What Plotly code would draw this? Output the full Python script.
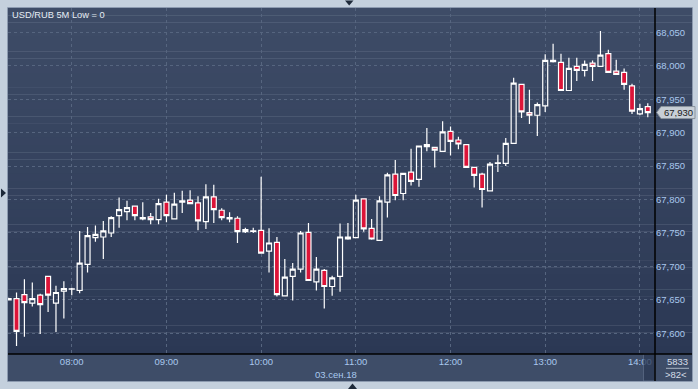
import plotly.graph_objects as go
import pandas as pd

# ---------------- data ----------------
times = pd.date_range("2018-09-03 07:20", periods=82, freq="5min")

open_ = [67.652, 67.652, 67.658, 67.645, 67.657, 67.685, 67.645, 67.663, 67.666, 67.664,
         67.703, 67.743, 67.744, 67.750, 67.776, 67.782, 67.790, 67.771, 67.774, 67.770,
         67.796, 67.771, 67.796, 67.799, 67.795, 67.767, 67.804, 67.784, 67.771, 67.772,
         67.752, 67.7525, 67.754, 67.723, 67.736, 67.656, 67.685, 67.696, 67.751, 67.677,
         67.694, 67.670, 67.685, 67.741, 67.743, 67.801, 67.757, 67.739, 67.796, 67.838,
         67.809, 67.841, 67.830, 67.882, 67.878, 67.872, 67.902, 67.889, 67.882, 67.848,
         67.838, 67.813, 67.854, 67.854, 67.884, 67.972, 67.930, 67.926, 67.940, 68.006,
         68.005, 67.963, 67.999, 67.993, 68.004, 67.999, 68.018, 67.992, 67.990, 67.970,
         67.928, 67.939]
high = [67.653, 67.661, 67.681, 67.676, 67.659, 67.686, 67.671, 67.678, 67.668, 67.753,
        67.759, 67.761, 67.768, 67.775, 67.803, 67.798, 67.790, 67.796, 67.780, 67.801,
        67.807, 67.810, 67.813, 67.814, 67.805, 67.823, 67.822, 67.787, 67.781, 67.775,
        67.758, 67.758, 67.834, 67.757, 67.744, 67.711, 67.705, 67.753, 67.765, 67.714,
        67.696, 67.686, 67.764, 67.765, 67.807, 67.801, 67.771, 67.805, 67.840, 67.859,
        67.840, 67.876, 67.880, 67.907, 67.879, 67.917, 67.909, 67.894, 67.883, 67.849,
        67.840, 67.856, 67.867, 67.892, 67.982, 67.973, 67.964, 67.945, 68.017, 68.033,
        68.018, 68.012, 68.012, 68.008, 68.008, 68.052, 68.024, 68.009, 67.996, 67.973,
        67.943, 67.944]
low = [67.649, 67.581, 67.595, 67.640, 67.599, 67.632, 67.602, 67.622, 67.657, 67.660,
       67.691, 67.737, 67.711, 67.744, 67.758, 67.769, 67.769, 67.769, 67.763, 67.763,
       67.766, 67.770, 67.780, 67.793, 67.754, 67.756, 67.765, 67.769, 67.766, 67.735,
       67.750, 67.750, 67.719, 67.691, 67.655, 67.655, 67.649, 67.691, 67.679, 67.664,
       67.637, 67.656, 67.662, 67.740, 67.743, 67.752, 67.740, 67.739, 67.773, 67.799,
       67.799, 67.821, 67.819, 67.872, 67.848, 67.871, 67.866, 67.875, 67.848, 67.818,
       67.788, 67.812, 67.841, 67.850, 67.883, 67.922, 67.913, 67.895, 67.931, 68.005,
       67.963, 67.963, 67.977, 67.984, 67.977, 67.999, 67.990, 67.987, 67.964, 67.928,
       67.926, 67.923]
close = [67.650, 67.603, 67.646, 67.652, 67.643, 67.657, 67.661, 67.667, 67.6665, 67.705,
         67.746, 67.748, 67.753, 67.773, 67.785, 67.788, 67.776, 67.773, 67.770, 67.794,
         67.776, 67.793, 67.798, 67.794, 67.768, 67.804, 67.785, 67.773, 67.773, 67.752,
         67.755, 67.753, 67.720, 67.735, 67.658, 67.684, 67.696, 67.750, 67.679, 67.696,
         67.670, 67.683, 67.744, 67.744, 67.799, 67.756, 67.741, 67.798, 67.837, 67.806,
         67.839, 67.827, 67.880, 67.879, 67.874, 67.901, 67.887, 67.883, 67.848, 67.836,
         67.815, 67.853, 67.855, 67.884, 67.974, 67.931, 67.926, 67.942, 68.008, 68.008,
         67.963, 67.996, 67.993, 68.002, 67.999, 68.016, 67.990, 67.987, 67.972, 67.932,
         67.936, 67.930]

title_text = "USD/RUB 5M Low = 0"
date_text = "03.сен.18"
volume_text = "5833"
count_text = ">82<"

# ---------------- geometry helpers (layout only) ----------------
W, H = 698, 389
L, R, T, B = 8, 43, 8, 35
PW, PH = W - L - R, H - T - B


def PX(x):
    return (x - L) / PW


def PY(y):
    return (H - B - y) / PH


RED = "#dc1438"
TICK = "#a9c8ee"
GRID = "#56657f"
FONT = "Liberation Sans"

fig = go.Figure()
fig.add_trace(go.Candlestick(
    x=times, open=open_, high=high, low=low, close=close,
    increasing=dict(line=dict(color="#ffffff", width=1.2), fillcolor="rgba(0,0,0,0)"),
    decreasing=dict(line=dict(color="#ffffff", width=1.2), fillcolor=RED),
    whiskerwidth=0, hoverinfo="skip", showlegend=False,
))

shapes = []
# vertical gradient background (plot + right axis panel)
top_c = (62, 76, 103)
bot_c = (43, 56, 84)
n = 48
for i in range(n):
    t0 = i / n
    t1 = (i + 1) / n
    f = (i + 0.5) / n
    c = tuple(round(top_c[j] + (bot_c[j] - top_c[j]) * f) for j in range(3))
    shapes.append(dict(type="rect", xref="paper", yref="paper", layer="below",
                       x0=PX(8), x1=PX(692), y0=PY(8 + 346 * t1) - 0.001, y1=PY(8 + 346 * t0),
                       fillcolor="rgb(%d,%d,%d)" % c, line=dict(width=0)))
# x-axis strip
shapes.append(dict(type="rect", xref="paper", yref="paper", layer="below",
                   x0=PX(8), x1=PX(692), y0=PY(381), y1=PY(354),
                   fillcolor="#3e4d68", line=dict(width=0)))
# scroll thumb near right end
shapes.append(dict(type="rect", xref="paper", yref="paper", layer="above",
                   x0=PX(643.5), x1=PX(655), y0=PY(381), y1=PY(354),
                   fillcolor="#2b3853", opacity=0.75, line=dict(color="#5a6a85", width=1)))
# black frame lines
shapes.append(dict(type="line", xref="paper", yref="paper", layer="above",
                   x0=PX(655), x1=PX(655), y0=PY(381), y1=PY(8),
                   line=dict(color="#000000", width=1.5)))
shapes.append(dict(type="line", xref="paper", yref="paper", layer="above",
                   x0=PX(8), x1=PX(692), y0=PY(354), y1=PY(354),
                   line=dict(color="#000000", width=1.5)))
# outer thin border
shapes.append(dict(type="rect", xref="paper", yref="paper", layer="above",
                   x0=PX(7.5), x1=PX(692.5), y0=PY(381.5), y1=PY(7.5),
                   line=dict(color="#8d9bb0", width=1)))
# separator in bottom-right box
shapes.append(dict(type="line", xref="paper", yref="paper", layer="above",
                   x0=PX(666), x1=PX(689), y0=PY(368.3), y1=PY(368.3),
                   line=dict(color="#a8b4c4", width=1)))
# small navigation triangles
def tri(pts):
    d = "M " + " L ".join("%f,%f" % (PX(x), PY(y)) for x, y in pts) + " Z"
    return dict(type="path", xref="paper", yref="paper", path=d, layer="above",
                fillcolor="#1e2a3a", line=dict(width=0))

shapes.append(tri([(345, 0.5), (353.5, 0.5), (349.2, 5.5)]))
shapes.append(tri([(1, 188.5), (1, 197.5), (6, 193)]))
shapes.append(tri([(348, 389), (357, 389), (352.5, 383.5)]))
# last price marker
shapes.append(dict(type="path", xref="paper", yref="y", layer="above",
                   xsizemode="pixel", ysizemode="pixel", xanchor=1, yanchor=close[-1],
                   path="M 1.7,0 L 6,6 L 40,6 L 40,-6 L 6,-6 Z",
                   fillcolor="#c8cfd7", line=dict(color="#8a939e", width=1)))

annotations = [
    dict(text=title_text, xref="paper", yref="paper", x=PX(10), y=PY(15),
         xanchor="left", yanchor="middle", showarrow=False,
         font=dict(family=FONT, size=9.3, color="#e6edf5")),
    dict(text=date_text, xref="paper", yref="paper", x=PX(336.3), y=PY(374.3),
         xanchor="center", yanchor="middle", showarrow=False,
         font=dict(family=FONT, size=9.5, color=TICK)),
    dict(text=volume_text, xref="paper", yref="paper", x=PX(677), y=PY(361.7),
         xanchor="center", yanchor="middle", showarrow=False,
         font=dict(family=FONT, size=9.5, color="#d6dee8")),
    dict(text=count_text, xref="paper", yref="paper", x=PX(676), y=PY(374.5),
         xanchor="center", yanchor="middle", showarrow=False,
         font=dict(family=FONT, size=9.5, color="#d6dee8")),
    dict(text=("%.3f" % close[-1]).replace(".", ","), xref="paper", yref="y",
         x=PX(661.5), y=close[-1], xanchor="left", yanchor="middle", showarrow=False,
         font=dict(family=FONT, size=9.5, color="#1a1a1a")),
]

fig.update_layout(
    width=W, height=H,
    margin=dict(l=L, r=R, t=T, b=B, pad=0),
    paper_bgcolor="#c4d0dd",
    plot_bgcolor="rgba(0,0,0,0)",
    separators=", ",
    boxgap=0.1, boxgroupgap=0.3,
    shapes=shapes,
    annotations=annotations,
    xaxis=dict(
        type="date",
        range=["2018-09-03 07:19:36", "2018-09-03 14:09:34"],
        rangeslider=dict(visible=False),
        tick0="2018-09-03 08:00", dtick=3600000, tickformat="%H:%M",
        showgrid=True, gridcolor=GRID, griddash="3px,3px", gridwidth=1,
        zeroline=False, showline=False, ticks="",
        tickfont=dict(family=FONT, size=9.5, color=TICK),
        fixedrange=True,
    ),
    yaxis=dict(
        side="right",
        range=[67.5691, 68.0863],
        tick0=67.6, dtick=0.05, tickformat=".3f",
        showgrid=True, gridcolor=GRID, griddash="3px,3px", gridwidth=1,
        zeroline=False, showline=False, ticks="",
        tickfont=dict(family=FONT, size=9.5, color=TICK),
        fixedrange=True,
    ),
    showlegend=False,
)

fig.write_html("out.html")
